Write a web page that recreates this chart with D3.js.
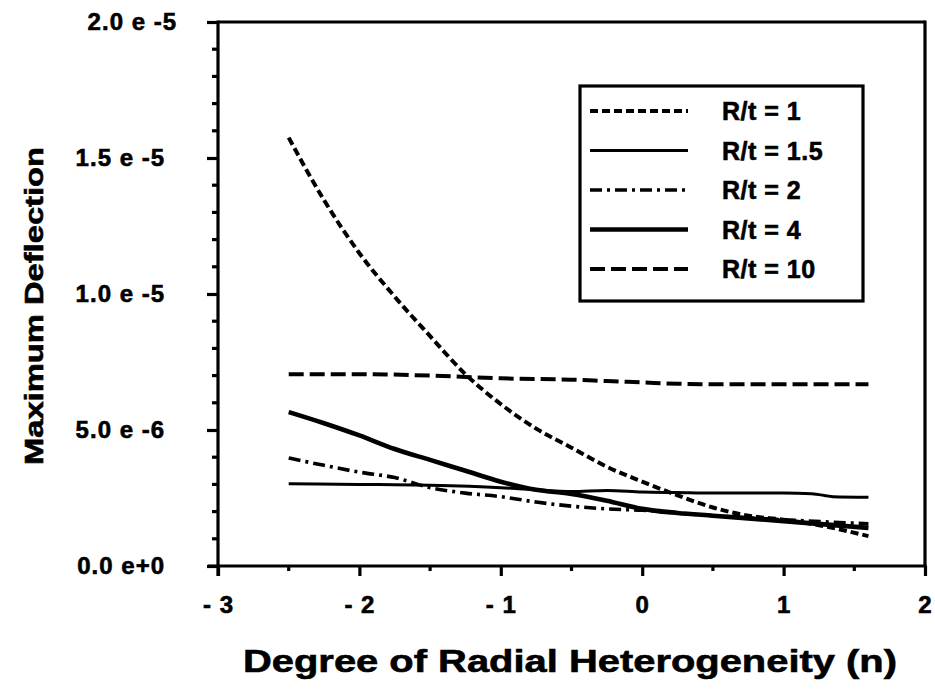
<!DOCTYPE html>
<html>
<head>
<meta charset="utf-8">
<script src="https://cdn.jsdelivr.net/npm/d3@7"></script>
<style>
  html, body { margin: 0; padding: 0; background: #fff; }
  svg { display: block; }
  text { font-family: "Liberation Sans", Arial, Helvetica, sans-serif; font-weight: bold; fill: #000; stroke: #000; stroke-width: 0.6px; }
</style>
</head>
<body>
<svg id="chart" width="935" height="694"></svg>
<script>
// ---- data ----
const xTicks = [-3, -2, -1, 0, 1, 2];
const xTickLabels = ["- 3", "- 2", "- 1", "0", "1", "2"];
const xMinorTicks = [-2.5, -1.5, -0.5, 0.5, 1.5];
const yTicks = [0, 5e-6, 1e-5, 1.5e-5, 2e-5];
const yTickLabels = ["0.0 e+0", "5.0 e -6", "1.0 e -5", "1.5 e -5", "2.0 e -5"];
const yMinorTicks = [1e-6, 2e-6, 3e-6, 4e-6, 6e-6, 7e-6, 8e-6, 9e-6, 1.1e-5, 1.2e-5, 1.3e-5, 1.4e-5, 1.6e-5, 1.7e-5, 1.8e-5, 1.9e-5];

const seriesNames = ["R/t = 1", "R/t = 1.5", "R/t = 2", "R/t = 4", "R/t = 10"];

const nRt1 = [-2.5, -2.25, -2, -1.75, -1.5, -1.25, -1, -0.75, -0.5, -0.25, 0, 0.25, 0.5, 0.75, 1, 1.25, 1.6];
const vRt1 = [15.75, 13.45, 11.5, 9.9, 8.45, 7.05, 5.95, 5.05, 4.35, 3.65, 3.1, 2.6, 2.15, 1.85, 1.7, 1.5, 1.1];

const nRt15 = [-2.5, -2, -1.5, -1, -0.75, -0.5, -0.25, 0, 0.25, 0.5, 1, 1.2, 1.35, 1.6];
const vRt15 = [3.02, 3.0, 2.97, 2.88, 2.8, 2.74, 2.78, 2.72, 2.7, 2.68, 2.68, 2.66, 2.55, 2.53];

const nRt2 = [-2.5, -2.25, -2, -1.75, -1.5, -1.25, -1, -0.75, -0.5, -0.25, 0, 0.25, 0.5, 1, 1.6];
const vRt2 = [3.97, 3.7, 3.45, 3.25, 2.88, 2.68, 2.55, 2.35, 2.2, 2.1, 2.05, 1.95, 1.85, 1.7, 1.55];

const nRt4 = [-2.5, -2.25, -2, -1.75, -1.5, -1.25, -1, -0.75, -0.5, -0.25, 0, 0.25, 0.5, 1, 1.6];
const vRt4 = [5.66, 5.25, 4.8, 4.3, 3.9, 3.5, 3.1, 2.8, 2.65, 2.4, 2.1, 1.95, 1.85, 1.65, 1.4];

const nRt10 = [-2.5, -2, -1.5, -1.25, -1, -0.5, -0.25, 0, 0.25, 0.5, 1, 1.6];
const vRt10 = [7.05, 7.05, 7.0, 6.95, 6.9, 6.85, 6.8, 6.75, 6.7, 6.68, 6.68, 6.68];

const valueUnit = 1e-6;

// ---- chart ----
const svg = d3.select("#chart");
const pLeft = 218, pRight = 925, pTop = 22, pBottom = 566;

const x = d3.scaleLinear().domain([-3, 2]).range([pLeft, pRight]);
const y = d3.scaleLinear().domain([0, 2e-5]).range([pBottom, pTop]);

const series = [
  { name: seriesNames[0], n: nRt1, v: vRt1, width: 4, dash: "8,4" },
  { name: seriesNames[1], n: nRt15, v: vRt15, width: 3, dash: null },
  { name: seriesNames[2], n: nRt2, v: vRt2, width: 3.6, dash: "12,5,3,5" },
  { name: seriesNames[3], n: nRt4, v: vRt4, width: 4.6, dash: null },
  { name: seriesNames[4], n: nRt10, v: vRt10, width: 4, dash: "15,6" }
];

// frame: top and right lines
svg.append("line").attr("x1", pLeft).attr("x2", pRight).attr("y1", pTop).attr("y2", pTop)
  .attr("stroke", "#000").attr("stroke-width", 3.2);
svg.append("line").attr("x1", pRight).attr("x2", pRight).attr("y1", pTop - 1.6).attr("y2", pBottom)
  .attr("stroke", "#000").attr("stroke-width", 3.2);

// x axis
const xAxis = d3.axisBottom(x).tickValues(xTicks).tickSize(10).tickPadding(20)
  .tickFormat((d, i) => xTickLabels[i]);
const gx = svg.append("g").attr("transform", `translate(0,${pBottom})`).call(xAxis);
gx.attr("font-family", null).attr("font-size", null);
gx.select(".domain").attr("stroke-width", 3.2).attr("d", `M${pLeft - 10},0H${pRight + 1.6}`);
gx.selectAll(".tick line").attr("stroke-width", 3.2);
gx.selectAll(".tick text").style("font-size", "24px").style("letter-spacing", "1px");

const gxm = svg.append("g").attr("transform", `translate(0,${pBottom})`);
gxm.selectAll("line").data(xMinorTicks).join("line")
  .attr("x1", d => x(d)).attr("x2", d => x(d)).attr("y1", 0).attr("y2", 5)
  .attr("stroke", "#000").attr("stroke-width", 3.2);

// y axis
const yAxis = d3.axisLeft(y).tickValues(yTicks).tickSize(11).tickPadding(42)
  .tickFormat((d, i) => yTickLabels[i]);
const gy = svg.append("g").attr("transform", `translate(${pLeft},0)`).call(yAxis);
gy.attr("font-family", null).attr("font-size", null);
gy.select(".domain").attr("stroke-width", 3.2).attr("d", `M0,${pBottom + 10}V${pTop - 1.6}`);
gy.selectAll(".tick line").attr("stroke-width", 3.2);
gy.selectAll(".tick text").style("font-size", "24px").style("letter-spacing", "1px");
gy.selectAll(".tick text").filter(d => d === 2e-5).attr("dx", 12);

const gym = svg.append("g").attr("transform", `translate(${pLeft},0)`);
gym.selectAll("line").data(yMinorTicks).join("line")
  .attr("x1", -6).attr("x2", 0).attr("y1", d => y(d)).attr("y2", d => y(d))
  .attr("stroke", "#000").attr("stroke-width", 3.2);

// lines
const line = d3.line().x(d => x(d[0])).y(d => y(d[1] * valueUnit)).curve(d3.curveMonotoneX);
series.forEach(s => {
  const pts = s.n.map((n, i) => [n, s.v[i]]);
  svg.append("path").datum(pts).attr("d", line)
    .attr("fill", "none").attr("stroke", "#000")
    .attr("stroke-width", s.width)
    .attr("stroke-dasharray", s.dash)
    .attr("stroke-linejoin", "round");
});

// legend
const lg = svg.append("g");
lg.append("rect").attr("x", 580).attr("y", 86).attr("width", 283).attr("height", 215)
  .attr("fill", "#fff").attr("stroke", "#000").attr("stroke-width", 3.2);
series.forEach((s, i) => {
  const yy = 111 + i * 39.5;
  lg.append("line").attr("x1", 590).attr("x2", 688).attr("y1", yy).attr("y2", yy)
    .attr("stroke", "#000").attr("stroke-width", s.width).attr("stroke-dasharray", s.dash);
  lg.append("text").attr("x", 722).attr("y", yy).attr("dy", "0.36em")
    .style("font-size", "25px").style("letter-spacing", "0.5px").text(s.name);
});

// axis titles
svg.append("text").attr("x", 243).attr("y", 672)
  .attr("textLength", 654).attr("lengthAdjust", "spacingAndGlyphs")
  .style("font-size", "32px")
  .text("Degree of Radial Heterogeneity (n)");
svg.append("text").attr("transform", "translate(43,465) rotate(-90)")
  .attr("textLength", 318).attr("lengthAdjust", "spacingAndGlyphs")
  .style("font-size", "26px")
  .text("Maximum Deflection");
</script>
</body>
</html>
